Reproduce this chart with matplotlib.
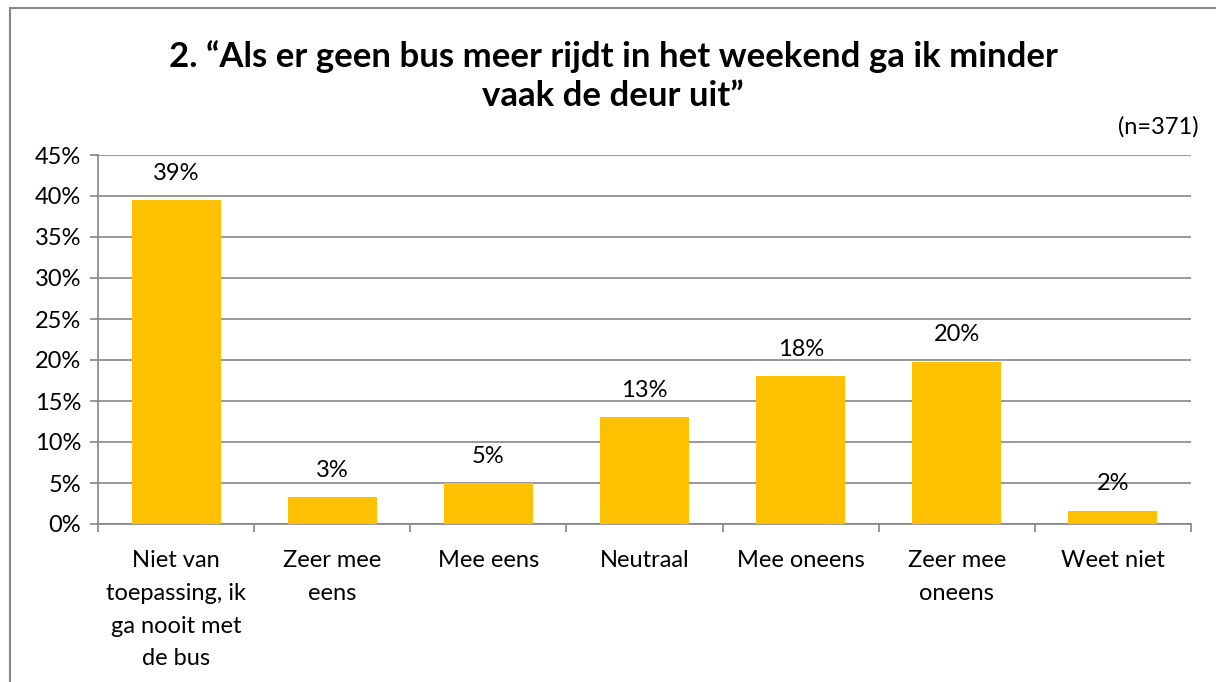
import matplotlib.pyplot as plt
from matplotlib.lines import Line2D

categories = ["Niet van\ntoepassing, ik\nga nooit met\nde bus", "Zeer mee\neens", "Mee eens",
              "Neutraal", "Mee oneens", "Zeer mee\noneens", "Weet niet"]
values = [39.5, 3.3, 5.0, 13.0, 18.0, 19.8, 1.6]
labels = ["39%", "3%", "5%", "13%", "18%", "20%", "2%"]
yticks = [0, 5, 10, 15, 20, 25, 30, 35, 40, 45]

plt.rcParams['font.family'] = ['Lato', 'DejaVu Sans']

fig = plt.figure(figsize=(12.16, 6.82), dpi=100)
ax = fig.add_axes([98/1216, 1 - 524/682, (1191-98)/1216, (524-155)/682])

x = list(range(len(categories)))
ax.bar(x, values, width=0.57, color="#FFC000", zorder=3)
for xi, v, lab in zip(x, values, labels):
    ax.text(xi, v + 2.0, lab, ha="center", va="bottom", fontsize=17)

ax.set_xlim(-0.5, len(categories) - 0.5)
ax.set_ylim(0, 45)
ax.set_yticks(yticks)
ax.set_yticklabels([f"{t}%" for t in yticks], fontsize=17)
ax.set_xticks(x)
ax.set_xticklabels(categories, fontsize=17, linespacing=1.68, va="top")
ax.tick_params(axis="x", length=0, pad=19)
ax.tick_params(axis="y", length=6, color="#868686", width=1.2, pad=6)
# category separator ticks
ax.set_xticks([i - 0.5 for i in range(len(categories) + 1)], minor=True)
ax.tick_params(axis="x", which="minor", length=6, color="#868686", width=1.2)

ax.grid(axis="y", color="#868686", linewidth=1.2, zorder=0)
for s in ["top", "right"]:
    ax.spines[s].set_visible(False)
for s in ["left", "bottom"]:
    ax.spines[s].set_color("#868686")
    ax.spines[s].set_linewidth(1.2)

fig.text(613/1216, 1 - 76/682, "2. \u201cAls er geen bus meer rijdt in het weekend ga ik minder\nvaak de deur uit\u201d",
         ha="center", va="center", fontsize=25, fontweight="bold", linespacing=1.3)
fig.text(1199/1216, 1 - 127/682, "(n=371)", ha="right", va="center", fontsize=17)

# chart area border (top and left visible)
fig.add_artist(Line2D([10/1216, 1.0], [1 - 7.5/682, 1 - 7.5/682], transform=fig.transFigure,
                      color="#868686", linewidth=1.5))
fig.add_artist(Line2D([10/1216, 10/1216], [0, 1 - 7.5/682], transform=fig.transFigure,
                      color="#868686", linewidth=1.5))

plt.savefig("out.png", dpi=100)
